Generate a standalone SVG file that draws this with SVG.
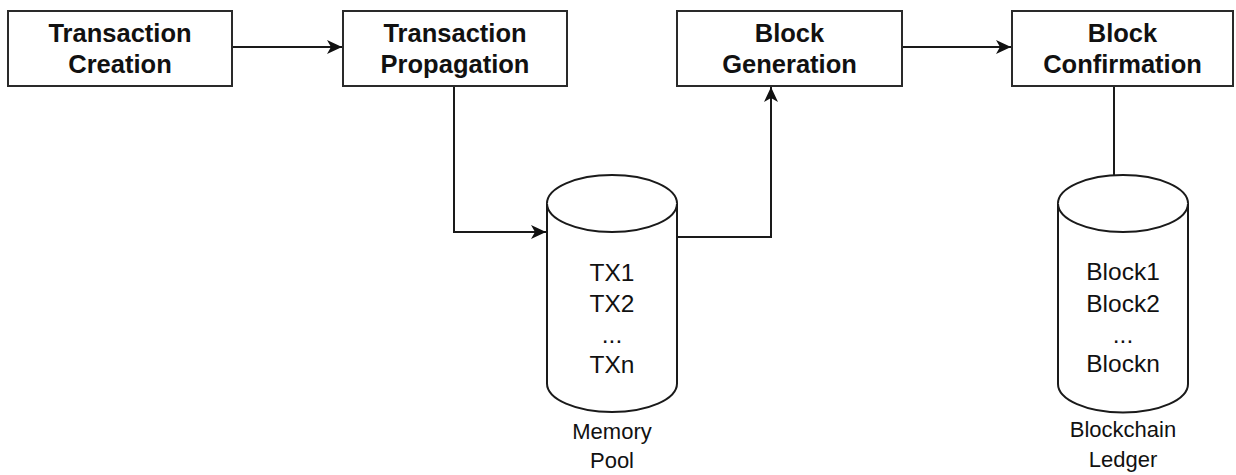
<svg xmlns="http://www.w3.org/2000/svg" width="1236" height="475" viewBox="0 0 1236 475">
<style>
.box{fill:#fff;stroke:#2a2a2a;stroke-width:2}
.cyl{fill:#fff;stroke:#1a1a1a;stroke-width:2}
.edge{fill:none;stroke:#1a1a1a;stroke-width:2}
.hd{font-family:"Liberation Sans",Arial,sans-serif;font-weight:bold;font-size:25.5px;fill:#111;text-anchor:middle}
.in{font-family:"Liberation Sans",Arial,sans-serif;font-size:24.5px;fill:#111;text-anchor:middle}
.lb{font-family:"Liberation Sans",Arial,sans-serif;font-size:22px;fill:#111;text-anchor:middle}
</style>
<defs>
<marker id="arr" markerUnits="userSpaceOnUse" markerWidth="16" markerHeight="14" refX="15" refY="7" orient="auto">
<path d="M0,0 L15,7 L0,14 L4,7 Z" fill="#111"/>
</marker>
</defs>
<rect width="1236" height="475" fill="#fff"/>
<g id="connectors">
<path class="edge" d="M232,47 H342" marker-end="url(#arr)"/>
<path class="edge" d="M454,86 V232 H546" marker-end="url(#arr)"/>
<path class="edge" d="M677,237 H771 V87" marker-end="url(#arr)"/>
<path class="edge" d="M902,47 H1011" marker-end="url(#arr)"/>
<path class="edge" d="M1114,86 V175"/>
</g>
<g id="tx-creation">
<rect class="box" x="8" y="11" width="224" height="75"/>
<text class="hd" x="120" y="42">Transaction</text>
<text class="hd" x="120" y="73">Creation</text>
</g>
<g id="tx-propagation">
<rect class="box" x="343" y="11" width="224" height="75"/>
<text class="hd" x="455" y="42">Transaction</text>
<text class="hd" x="455" y="73">Propagation</text>
</g>
<g id="block-generation">
<rect class="box" x="677" y="11" width="225" height="75"/>
<text class="hd" x="789.5" y="42">Block</text>
<text class="hd" x="789.5" y="73">Generation</text>
</g>
<g id="block-confirmation">
<rect class="box" x="1012" y="11" width="221" height="75"/>
<text class="hd" x="1122.5" y="42">Block</text>
<text class="hd" x="1122.5" y="73">Confirmation</text>
</g>
<g id="memory-pool">
<path class="cyl" d="M547,203.5 A65,28.5 0 0 1 677,203.5 V383.5 A65,28.5 0 0 1 547,383.5 Z"/>
<path class="cyl" d="M547,203.5 A65,28.5 0 0 0 677,203.5"/>
<text class="in" x="612" y="280.5">TX1</text>
<text class="in" x="612" y="312">TX2</text>
<text class="in" x="612" y="343">...</text>
<text class="in" x="612" y="373">TXn</text>
<text class="lb" x="612" y="438.5">Memory</text>
<text class="lb" x="612" y="467.5">Pool</text>
</g>
<g id="blockchain-ledger">
<path class="cyl" d="M1058,203.5 A65,28.5 0 0 1 1188,203.5 V384 A65,28.5 0 0 1 1058,384 Z"/>
<path class="cyl" d="M1058,203.5 A65,28.5 0 0 0 1188,203.5"/>
<text class="in" x="1123" y="280">Block1</text>
<text class="in" x="1123" y="311.5">Block2</text>
<text class="in" x="1123" y="343">...</text>
<text class="in" x="1123" y="372">Blockn</text>
<text class="lb" x="1123" y="437">Blockchain</text>
<text class="lb" x="1123" y="467">Ledger</text>
</g>
</svg>
